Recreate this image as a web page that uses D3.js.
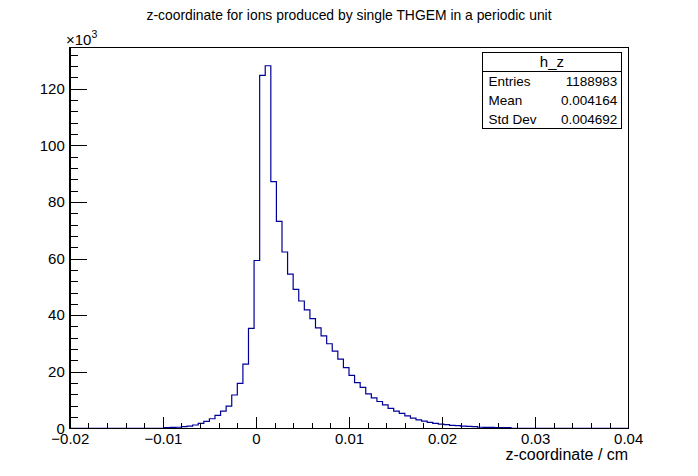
<!DOCTYPE html>
<html>
<head>
    <meta charset="utf-8">
    <title>h_z</title>
    <script type="text/javascript" src="https://cdn.jsdelivr.net/npm/d3@7"></script>
    <style>
        body { margin: 0; background: #fff; }
        svg { display: block; font-family: "Liberation Sans", Arial, Helvetica, sans-serif; }
        .axis path, .axis line { stroke: #000; stroke-width: 1; shape-rendering: crispEdges; }
        .axis text { font-size: 15px; fill: #000; font-family: "Liberation Sans", Arial, sans-serif; }
    </style>
</head>

<body>

<script type="text/javascript">
    // histogram h_z : 100 bins between -0.02 and 0.04 cm
    var zLow = -0.02, zHigh = 0.04, nBins = 100;

    // bin contents, in units of 10^3 entries
    var binCounts = [
        0, 0, 0, 0, 0, 0, 0, 0, 0, 0,
        0, 0, 0, 0, 0, 0, 0, 0.3, 0.35, 0.4,
        0.6, 0.8, 1.2, 1.8, 2.5, 3.4, 4.6, 6.1, 7.9, 11.8,
        15.9, 22.7, 35.3, 59.3, 124.7, 128.1, 87.2, 73.1, 62.3, 54.5,
        49.1, 45.0, 41.9, 38.8, 35.5, 32.7, 29.9, 27.3, 24.5, 21.5,
        18.7, 16.2, 14.5, 12.2, 10.8, 9.5, 8.3, 7.1, 6.1, 5.3,
        4.4, 3.6, 3.0, 2.6, 2.1, 1.8, 1.5, 1.3, 1.1, 0.95,
        0.8, 0.7, 0.6, 0.4, 0.35, 0.35, 0.3, 0.3, 0.3, 0,
        0, 0, 0, 0, 0, 0, 0, 0, 0, 0,
        0, 0, 0, 0, 0, 0, 0, 0, 0, 0
    ];

    var xTickValues = [-0.02, -0.01, 0, 0.01, 0.02, 0.03, 0.04];
    var xTickLabels = ["\u22120.02", "\u22120.01", "0", "0.01", "0.02", "0.03", "0.04"];
    var yTickValues = [0, 20, 40, 60, 80, 100, 120];
    var yTickLabels = ["0", "20", "40", "60", "80", "100", "120"];

    var titleText = "z-coordinate for ions produced by single THGEM in a periodic unit";
    var xTitleText = "z-coordinate / cm";

    var statsName = "h_z";
    var statsLabels = ["Entries", "Mean", "Std Dev"];
    var statsValues = ["1188983", "0.004164", "0.004692"];

    var _width = 698, _height = 476,
        _margins = {top: 47.6, left: 69.8, right: 69.8, bottom: 47.6};

    function quadrantWidth() { return _width - _margins.left - _margins.right; }
    function quadrantHeight() { return _height - _margins.top - _margins.bottom; }

    var svg = d3.select("body").append("svg")
            .attr("width", _width)
            .attr("height", _height);

    svg.append("rect")
            .attr("width", _width)
            .attr("height", _height)
            .attr("fill", "#fff");

    var x = d3.scaleLinear().domain([zLow, zHigh]).range([0, quadrantWidth()]);
    // ROOT puts the maximum 5% above the highest bin
    var y = d3.scaleLinear().domain([0, 1.05 * d3.max(binCounts)]).range([quadrantHeight(), 0]);

    var bodyG = svg.append("g")
            .attr("transform", "translate(" + _margins.left + "," + _margins.top + ")");

    // histogram outline, drawn as steps
    var binWidth = (zHigh - zLow) / nBins;
    var steps = binCounts.map(function (c, i) {
        return {x: zLow + i * binWidth, y: c};
    });
    steps.push({x: zHigh, y: binCounts[nBins - 1]});

    var line = d3.line()
            .x(function (d) { return x(d.x); })
            .y(function (d) { return y(d.y); })
            .curve(d3.curveStepAfter);

    bodyG.append("path")
            .datum(steps)
            .attr("d", line)
            .attr("fill", "none")
            .attr("stroke", "#000099")
            .attr("stroke-width", 1.2);

    // frame
    bodyG.append("rect")
            .attr("width", quadrantWidth())
            .attr("height", quadrantHeight())
            .attr("fill", "none")
            .attr("stroke", "#000")
            .attr("shape-rendering", "crispEdges");

    // axes, ticks pointing inside the frame like ROOT
    var xMajorLen = 0.03 * quadrantHeight(), yMajorLen = 0.03 * quadrantWidth();

    bodyG.append("g")
            .attr("class", "x axis")
            .attr("transform", "translate(0," + quadrantHeight() + ")")
            .call(d3.axisBottom(x)
                .tickValues(xTickValues)
                .tickFormat(function (d, i) { return xTickLabels[i]; })
                .tickSizeInner(-xMajorLen)
                .tickSizeOuter(0)
                .tickPadding(5));

    bodyG.append("g")
            .attr("class", "x axis minor")
            .attr("transform", "translate(0," + quadrantHeight() + ")")
            .call(d3.axisBottom(x)
                .tickValues(d3.range(-10, 21).map(function (k) { return k * 0.002; }))
                .tickFormat("")
                .tickSizeInner(-xMajorLen / 2)
                .tickSizeOuter(0));

    bodyG.append("g")
            .attr("class", "y axis")
            .call(d3.axisLeft(y)
                .tickValues(yTickValues)
                .tickFormat(function (d, i) { return yTickLabels[i]; })
                .tickSizeInner(-yMajorLen)
                .tickSizeOuter(0)
                .tickPadding(5));

    bodyG.append("g")
            .attr("class", "y axis minor")
            .call(d3.axisLeft(y)
                .tickValues(d3.range(0, 34).map(function (k) { return k * 4; }))
                .tickFormat("")
                .tickSizeInner(-yMajorLen / 2)
                .tickSizeOuter(0));

    // exponent of the y axis
    var expText = svg.append("text")
            .attr("x", 66)
            .attr("y", 45)
            .style("font-size", "15px");
    expText.append("tspan").text("\u00d710");
    expText.append("tspan")
            .attr("dy", -7)
            .style("font-size", "10.5px")
            .text("3");

    // titles
    svg.append("text")
            .attr("x", _width / 2)
            .attr("y", 20)
            .attr("text-anchor", "middle")
            .style("font-size", "13.9px")
            .text(titleText);

    svg.append("text")
            .attr("x", _margins.left + quadrantWidth())
            .attr("y", 460)
            .attr("text-anchor", "end")
            .style("font-size", "16px")
            .text(xTitleText);

    // statistics box
    var statsX = 482.6, statsY = 52.4, statsW = 138.6, statsH = 76,
        rowH = statsH / (statsLabels.length + 1);

    var statsG = svg.append("g")
            .attr("transform", "translate(" + statsX + "," + statsY + ")");

    statsG.append("rect")
            .attr("width", statsW)
            .attr("height", statsH)
            .attr("fill", "#fff")
            .attr("stroke", "#000")
            .attr("shape-rendering", "crispEdges");

    statsG.append("line")
            .attr("x1", 0)
            .attr("x2", statsW)
            .attr("y1", rowH)
            .attr("y2", rowH)
            .attr("stroke", "#000")
            .attr("shape-rendering", "crispEdges");

    statsG.append("text")
            .attr("x", statsW / 2)
            .attr("y", rowH / 2 + 5.5)
            .attr("text-anchor", "middle")
            .style("font-size", "15px")
            .text(statsName);

    statsLabels.forEach(function (label, i) {
        var cy = rowH * (i + 1.5);
        statsG.append("text")
                .attr("x", 6)
                .attr("y", cy + 4.8)
                .style("font-size", "13.5px")
                .text(label);
        statsG.append("text")
                .attr("x", statsW - 4)
                .attr("y", cy + 4.8)
                .attr("text-anchor", "end")
                .style("font-size", "13.5px")
                .text(statsValues[i]);
    });
</script>

</body>

</html>
